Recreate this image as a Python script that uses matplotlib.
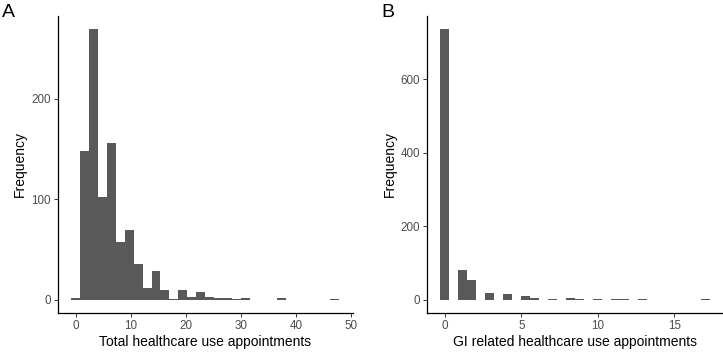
import numpy as np
import matplotlib
matplotlib.use("Agg")
import matplotlib.pyplot as plt

plt.rcParams['font.family'] = ['Liberation Sans', 'DejaVu Sans']

# 30 bins each (ggplot default), centres spread over the data range
total_range = (0, 47)
total_counts = [2, 148, 269, 102, 156, 57, 69, 36, 12, 29,
                10, 1, 10, 3, 8, 3, 2, 2, 1, 2,
                0, 0, 0, 2, 0, 0, 0, 0, 0, 1]

gi_range = (0, 17)
gi_counts = [736, 0, 80, 55, 0, 18, 0, 15, 0, 10,
             4, 0, 3, 0, 5, 1, 0, 1, 0, 1,
             1, 0, 1, 0, 0, 0, 0, 0, 0, 1]

x_ticks_a = [0, 10, 20, 30, 40, 50]
y_ticks_a = [0, 100, 200]
x_ticks_b = [0, 5, 10, 15]
y_ticks_b = [0, 200, 400, 600]

fill = '#595959'
tick_col = '#333333'
lab_col = '#4d4d4d'


def draw_hist(ax, rng, counts, xticks, yticks, xlabel):
    n = len(counts)
    centres = np.linspace(rng[0], rng[1], n)
    width = (rng[1] - rng[0]) / (n - 1)
    ax.bar(centres, counts, width=width, color=fill, linewidth=0)
    lo, hi = centres[0] - width / 2, centres[-1] + width / 2
    pad = (hi - lo) * 0.05
    ax.set_xlim(lo - pad, hi + pad)
    top = max(counts)
    ax.set_ylim(-top * 0.05, top * 1.05)
    ax.set_xticks(xticks)
    ax.set_yticks(yticks)
    for s in ['top', 'right']:
        ax.spines[s].set_visible(False)
    for s in ['left', 'bottom']:
        ax.spines[s].set_linewidth(0.9)
        ax.spines[s].set_color('black')
    ax.tick_params(length=2.8, width=0.7, color=tick_col, labelcolor=lab_col,
                   labelsize=8.4, pad=2)
    ax.set_xlabel(xlabel, fontsize=10, labelpad=2)
    ax.set_ylabel('Frequency', fontsize=10, labelpad=3)


fig = plt.figure(figsize=(7.23, 3.53), dpi=100)
ax1 = fig.add_axes([0.0798, 0.1125, 0.4079, 0.843])
ax2 = fig.add_axes([0.5906, 0.1125, 0.4094, 0.843])

draw_hist(ax1, total_range, total_counts, x_ticks_a, y_ticks_a,
          'Total healthcare use appointments')
draw_hist(ax2, gi_range, gi_counts, x_ticks_b, y_ticks_b,
          'GI related healthcare use appointments')

fig.text(0.003, 0.99, 'A', fontsize=14, va='top', ha='left')
fig.text(0.527, 0.99, 'B', fontsize=14, va='top', ha='left')

fig.savefig('out.png', dpi=100)
